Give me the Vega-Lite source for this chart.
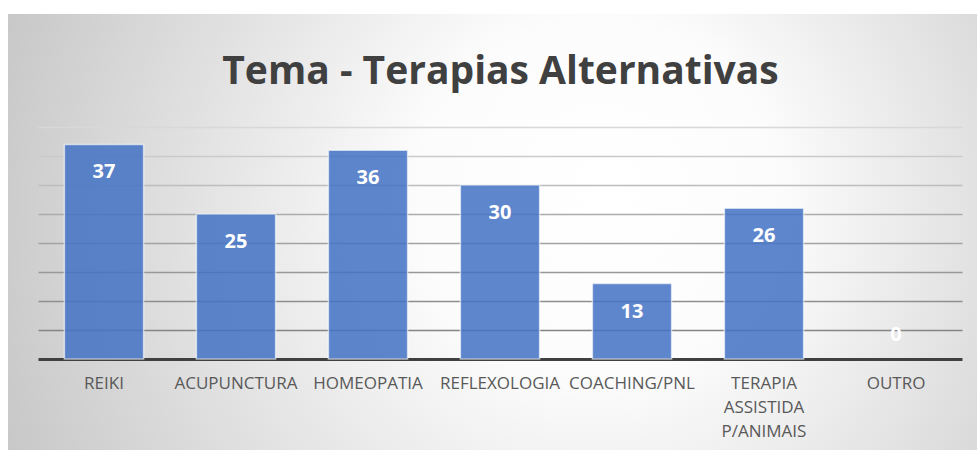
{
  "$schema": "https://vega.github.io/schema/vega-lite/v6.json",
  "width": 969,
  "height": 436,
  "autosize": {"type": "none"},
  "padding": {"left": 8, "top": 14, "right": 0, "bottom": 0},
  "background": "#ffffff",
  "config": {
    "view": {
      "stroke": null,
      "fill": {
        "gradient": "radial",
        "x1": 0.62, "y1": 0.45, "r1": 0,
        "x2": 0.58, "y2": 0.5, "r2": 0.62,
        "stops": [
          {"offset": 0, "color": "#ffffff"},
          {"offset": 0.3, "color": "#fcfcfc"},
          {"offset": 1, "color": "#c8c8c8"}
        ]
      }
    }
  },
  "title": {
    "text": "Tema - Terapias Alternativas",
    "font": "Open Sans",
    "fontWeight": "bold",
    "fontSize": 39,
    "color": "#404040",
    "anchor": "middle",
    "frame": "group",
    "baseline": "middle",
    "offset": 0,
    "dy": 97,
    "dx": 8
  },
  "data": {
    "values": [
      {"tema": "REIKI", "valor": 37},
      {"tema": "ACUPUNCTURA", "valor": 25},
      {"tema": "HOMEOPATIA", "valor": 36},
      {"tema": "REFLEXOLOGIA", "valor": 30},
      {"tema": "COACHING/PNL", "valor": 13},
      {"tema": "TERAPIA ASSISTIDA P/ANIMAIS", "valor": 26},
      {"tema": "OUTRO", "valor": 0}
    ]
  },
  "encoding": {
    "x": {
      "field": "tema",
      "type": "nominal",
      "sort": null,
      "scale": {"range": [30, 954], "paddingInner": 0.4, "paddingOuter": 0.2},
      "axis": {
        "title": null,
        "orient": "bottom",
        "offset": -91,
        "domainColor": "#404040",
        "domainWidth": 3,
        "ticks": false,
        "grid": false,
        "labelFont": "Open Sans",
        "labelFontSize": 17,
        "labelColor": "#595959",
        "labelAngle": 0,
        "labelPadding": 16,
        "labelLineHeight": 24,
        "labelExpr": "split(datum.value, ' ')"
      }
    }
  },
  "layer": [
    {
      "transform": [{"filter": "datum.valor > 0"}],
      "mark": {
        "type": "bar",
        "fill": "#4472C4",
        "fillOpacity": 0.86,
        "stroke": "#ffffff",
        "strokeOpacity": 0.6,
        "strokeWidth": 1.5
      },
      "encoding": {
        "y": {
          "field": "valor",
          "type": "quantitative",
          "scale": {"domain": [-15.7, 59.5], "nice": false, "zero": false},
          "axis": {
            "title": null,
            "values": [5, 10, 15, 20, 25, 30, 35, 40],
            "labels": false,
            "ticks": false,
            "domain": false,
            "grid": true,
            "gridScale": "x",
            "gridWidth": 1.5,
            "gridColor": {
              "condition": [
                {"test": "datum.value >= 40", "value": "#d8d8d8"},
                {"test": "datum.value >= 35", "value": "#cacaca"},
                {"test": "datum.value >= 30", "value": "#bdbdbd"},
                {"test": "datum.value >= 25", "value": "#acacac"},
                {"test": "datum.value >= 20", "value": "#a2a2a2"},
                {"test": "datum.value >= 15", "value": "#989898"},
                {"test": "datum.value >= 10", "value": "#8e8e8e"}
              ],
              "value": "#858585"
            }
          }
        },
        "y2": {"datum": 0}
      }
    },
    {
      "transform": [{"filter": "datum.valor > 0"}],
      "mark": {
        "type": "text",
        "dy": 28,
        "color": "#ffffff",
        "fontWeight": "bold",
        "fontSize": 20,
        "font": "Open Sans",
        "baseline": "middle"
      },
      "encoding": {
        "y": {"field": "valor", "type": "quantitative"},
        "text": {"field": "valor", "type": "quantitative"}
      }
    },
    {
      "transform": [{"filter": "datum.valor == 0"}],
      "mark": {
        "type": "text",
        "dy": -24,
        "color": "#ffffff",
        "fontWeight": "bold",
        "fontSize": 20,
        "font": "Open Sans",
        "baseline": "middle"
      },
      "encoding": {
        "y": {"field": "valor", "type": "quantitative"},
        "text": {"field": "valor", "type": "quantitative"}
      }
    }
  ]
}
